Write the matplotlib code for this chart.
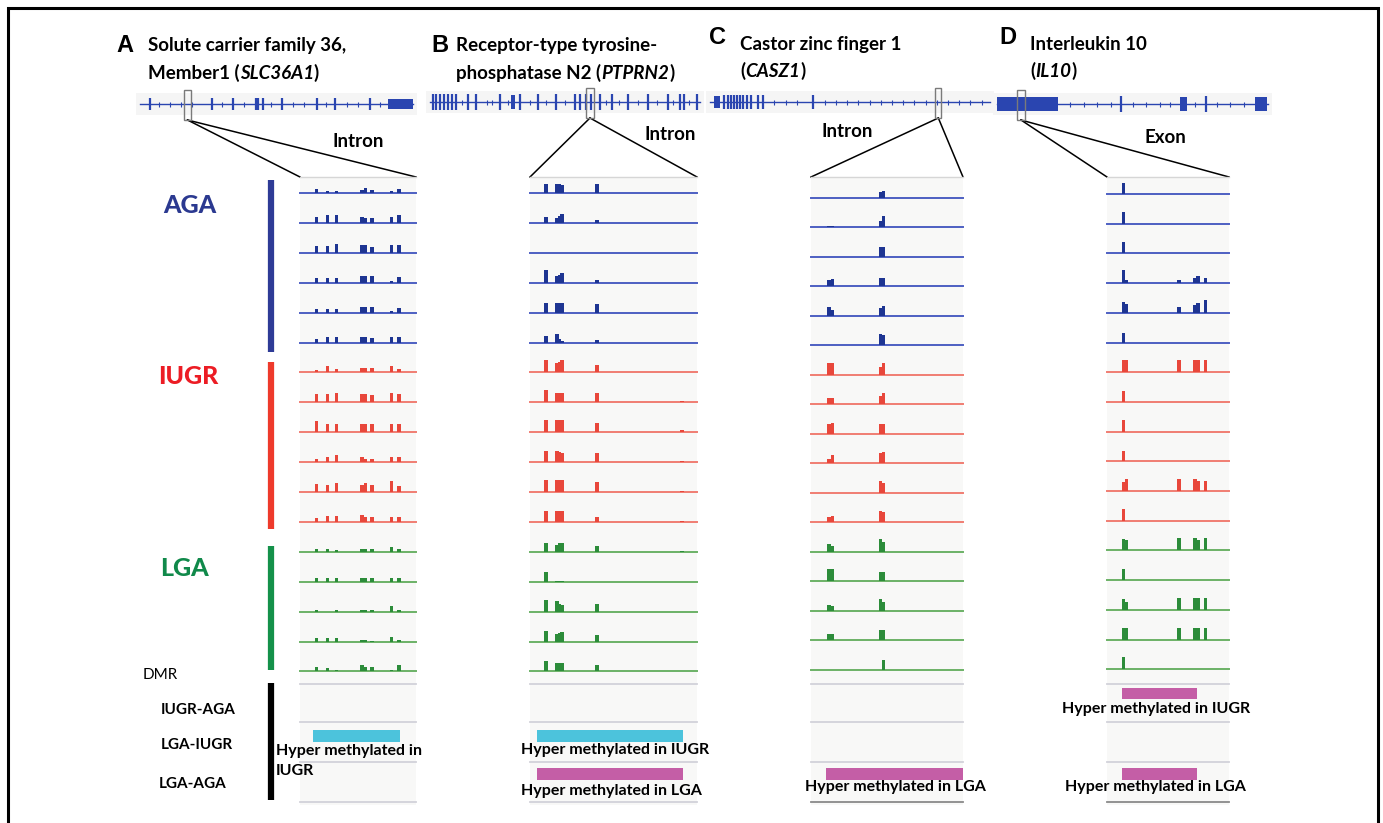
import numpy as np
import matplotlib
matplotlib.use("Agg")
import matplotlib.pyplot as plt
from matplotlib.patches import Rectangle

W, H = 1383, 823
TITLE_FONT = "Lato"

# ---------------- data ----------------
groups = ["AGA", "IUGR", "LGA"]
group_sizes = [6, 6, 5]
dmr_rows = ["IUGR-AGA", "LGA-IUGR", "LGA-AGA"]

panel_letters = ["A", "B", "C", "D"]
panel_titles = [
    ["Solute carrier family 36,", [("Member1 (", "normal"), ("SLC36A1", "italic"), (")", "normal")]],
    ["Receptor-type tyrosine-", [("phosphatase N2 (", "normal"), ("PTPRN2", "italic"), (")", "normal")]],
    ["Castor zinc finger 1", [("(", "normal"), ("CASZ1", "italic"), (")", "normal")]],
    ["Interleukin 10", [("(", "normal"), ("IL10", "italic"), (")", "normal")]],
]
region_labels = ["Intron", "Intron", "Intron", "Exon"]

# gene models: exon tick positions (fraction of gene span), thick UTR blocks (start, end)
gene_A_exons = [0.035, 0.264, 0.341, 0.425, 0.432, 0.451, 0.52, 0.648, 0.714, 0.842]
gene_A_blocks = [(0.908, 1.0)]
gene_A_marks = [0.07, 0.11, 0.15, 0.19, 0.30, 0.38, 0.48, 0.56, 0.60, 0.68, 0.76, 0.80, 0.88]
gene_B_exons = [0.011, 0.022, 0.037, 0.052, 0.067, 0.081, 0.096, 0.141, 0.17, 0.259, 0.333,
                0.4, 0.467, 0.537, 0.556, 0.578, 0.596, 0.63, 0.674, 0.733, 0.807, 0.881,
                0.926, 0.941, 0.989]
gene_B_blocks = [(0.30, 0.315), (0.575, 0.583)]
gene_B_marks = [0.12, 0.21, 0.23, 0.29, 0.37, 0.43, 0.5, 0.65, 0.7, 0.77, 0.84, 0.9, 0.96]
gene_C_exons = [0.05, 0.064, 0.074, 0.085, 0.096, 0.106, 0.117, 0.131, 0.145, 0.17, 0.191, 0.369]
gene_C_blocks = [(0.014, 0.035)]
gene_C_marks = [0.23, 0.27, 0.31, 0.41, 0.45, 0.49, 0.53, 0.57, 0.61, 0.65, 0.69, 0.73,
                0.77, 0.81, 0.85, 0.89, 0.93, 0.97]
gene_D_exons = [0.458, 0.771]
gene_D_blocks = [(0.0, 0.225), (0.675, 0.701), (0.952, 0.996)]
gene_D_marks = [0.27, 0.32, 0.37, 0.42, 0.5, 0.55, 0.6, 0.64, 0.73, 0.81, 0.86, 0.91]
gene_exons = [gene_A_exons, gene_B_exons, gene_C_exons, gene_D_exons]
gene_blocks = [gene_A_blocks, gene_B_blocks, gene_C_blocks, gene_D_blocks]
gene_marks = [gene_A_marks, gene_B_marks, gene_C_marks, gene_D_marks]
zoom_window = [(0.161, 0.187), (0.578, 0.607), (0.805, 0.826), (0.074, 0.103)]

# methylation tracks: CpG positions (fraction of zoomed region) and levels per sample
pos_A = [0.14, 0.235, 0.315, 0.535, 0.565, 0.62, 0.79, 0.855]
lev_A = [
    [4, 2.3, 1.7, 3.3, 5, 2.7, 1.7, 4],
    [6, 8, 8, 6, 5, 5, 6, 8],
    [7, 7, 8.5, 8, 8, 6, 8, 8],
    [4.7, 4.7, 4.7, 7, 7, 7, 1.7, 6],
    [3.3, 3.3, 3.3, 5.3, 5.3, 5.3, 1.7, 4.7],
    [3.3, 6, 5.3, 6, 6, 4.7, 6, 6],
    [2, 6, 3.3, 4.7, 4.7, 4.7, 6, 3.3],
    [8, 8, 9.3, 8.3, 8.3, 7.3, 9.3, 8],
    [11, 8, 8, 8, 8, 8, 8, 8],
    [3.3, 4.7, 6.7, 5.3, 3.3, 3.3, 4.7, 5.3],
    [8, 7.3, 9.3, 7.3, 9.3, 6.7, 10.7, 6],
    [4, 6, 6, 6.7, 4.7, 4.7, 4.7, 4.7],
    [3.3, 3.3, 2, 3.3, 3.3, 3.3, 4.7, 3.3],
    [3.3, 3.3, 3.3, 3.3, 3.3, 3.3, 3.3, 3.3],
    [2, 0, 2, 2, 2, 2, 6, 2],
    [3.3, 3.3, 3.3, 1.7, 1.7, 1, 4.7, 2],
    [4.7, 3.3, 1, 6, 4.7, 4.7, 1, 6],
]
pos_B = [0.094, 0.16, 0.176, 0.192, 0.403, 0.912]
lev_B = [
    [8.7, 9.3, 8.7, 8, 8.7, 0],
    [6, 5.3, 7.3, 8.7, 2.7, 0],
    [0, 0, 0, 0, 0, 0],
    [12.7, 6.7, 8, 9.3, 2.7, 0],
    [10, 10, 10, 10, 8.7, 0],
    [6.7, 8.7, 3.3, 2, 2.7, 0],
    [12, 9.3, 10.7, 12, 7.3, 0],
    [12, 9.3, 9.3, 9.3, 9.3, 1.3],
    [12, 12, 12, 12, 9.3, 2],
    [10.7, 11.3, 10, 9.3, 8.7, 1],
    [12, 12, 12, 12, 10, 1],
    [10.7, 10.7, 10.7, 10.7, 5.3, 1.3],
    [8.7, 7.3, 8.7, 9.3, 6, 1.3],
    [10, 1, 1, 1, 0, 0],
    [11.3, 10.7, 8, 6.7, 8, 0],
    [10.7, 7.3, 8.7, 9.3, 6.7, 0],
    [10, 8.7, 8, 8, 6.7, 0],
]
pos_C = [0.12, 0.142, 0.458, 0.478]
lev_C = [
    [0, 0, 6, 7],
    [1, 1, 6.7, 11.3],
    [0, 0, 9.3, 9.3],
    [6.7, 7.3, 8.7, 8],
    [8.7, 5.3, 8, 9.3],
    [0, 0, 11.3, 10],
    [11.3, 11.3, 8, 11.3],
    [6, 6, 8.7, 11.3],
    [9.3, 10.7, 10, 10],
    [4.7, 8, 10, 11.3],
    [0, 0, 11.3, 10],
    [5.3, 6.7, 11.3, 10],
    [7.3, 6, 12.7, 9.3],
    [12.7, 12.7, 9.3, 9.3],
    [6, 4.7, 11.3, 8.7],
    [6, 6, 10.7, 10.7],
    [0, 0, 0, 9.3],
]
pos_D = [0.134, 0.161, 0.59, 0.72, 0.748, 0.806]
lev_D = [
    [10.7, 0, 0, 0, 0, 0],
    [12, 0, 0, 0, 0, 0],
    [11.3, 0, 0, 0, 0, 0],
    [12.7, 2.7, 2.7, 5.3, 7.3, 4.7],
    [11.3, 9.3, 6, 8, 10, 12.7],
    [9.3, 0, 0, 0, 0, 0],
    [12, 12, 12, 12, 12, 12],
    [10.7, 0, 0, 0, 0, 0],
    [12, 0, 0, 0, 0, 0],
    [10, 0, 0, 0, 0, 0],
    [9.3, 12, 12, 12, 10, 10],
    [11.3, 0, 0, 0, 0, 0],
    [11.3, 10, 12, 12, 10, 12],
    [11.3, 0, 0, 0, 0, 0],
    [11.3, 8, 12, 12, 12, 12],
    [11.3, 12, 12, 12, 12, 12],
    [12, 0, 0, 0, 0, 0],
]
cpg_pos = [pos_A, pos_B, pos_C, pos_D]
cpg_lev = [lev_A, lev_B, lev_C, lev_D]
bar_w = [0.03, 0.022, 0.024, 0.03]

# DMRs: (row, start, end, colour key)
dmr_A = [(1, 0.11, 0.86, "cyan")]
dmr_B = [(1, 0.042, 0.916, "cyan"), (2, 0.042, 0.916, "magenta")]
dmr_C = [(2, 0.099, 1.0, "magenta")]
dmr_D = [(0, 0.123, 0.738, "magenta"), (2, 0.123, 0.738, "magenta")]
dmrs = [dmr_A, dmr_B, dmr_C, dmr_D]

# ---------------- layout / style ----------------
bar_col = {"AGA": "#1e3592", "IUGR": "#e8473b", "LGA": "#2c8c3a"}
line_col = {"AGA": "#4d5fc2", "IUGR": "#f07d72", "LGA": "#6cb267"}
label_col = {"AGA": "#2b3990", "IUGR": "#ec1c24", "LGA": "#10894a"}
side_col = {"AGA": "#2e3b96", "IUGR": "#ee3a2b", "LGA": "#14914a"}
dmr_col = {"cyan": "#4cc3dc", "magenta": "#c45ea6"}
gene_col = "#2a45b0"

col_x = [(300, 416), (530, 697), (811, 963), (1107, 1229)]
base0 = [193, 193, 197.7, 194]
step = [29.9, 29.9, 29.5, 29.7]
gene_x = [(140, 413), (430, 700), (710, 990), (997, 1268)]
gene_y = [104, 102, 102, 104]
exon_h = [12, 16, 14, 16]
dmr_y = [(688, 699), (730, 742), (768, 780)]
sep_y = [684, 722, 762, 802]

fig = plt.figure(figsize=(W / 100, H / 100), dpi=100)
ax = fig.add_axes([0, 0, 1, 1])
ax.set_xlim(0, W)
ax.set_ylim(H, 0)
ax.axis("off")
renderer = fig.canvas.get_renderer()

# outer frame
ax.plot([8, 8, 1378, 1378], [H, 8, 8, H], color="black", lw=2.2, solid_joinstyle="miter")


def rich_text(x, y, parts, **kw):
    for s, style in parts:
        t = ax.text(x, y, s, fontstyle=style, **kw)
        x += t.get_window_extent(renderer=renderer).width


title_kw = dict(fontsize=13.5, fontweight="bold", family=TITLE_FONT, va="center", ha="left")
letter_xy = [(116, 45), (431, 45), (709, 37), (999, 37)]
title_x = [148, 456, 740, 1030]
title_y = [(45, 73), (45, 73), (44, 71), (44, 71)]
region_xy = [(358, 141), (670, 134), (847, 131), (1165, 137)]

for p in range(4):
    lx, ly = letter_xy[p]
    ax.text(lx, ly, panel_letters[p], fontsize=17, fontweight="bold", family="Liberation Sans",
            va="center", ha="left")
    ax.text(title_x[p], title_y[p][0], panel_titles[p][0], **title_kw)
    rich_text(title_x[p], title_y[p][1], panel_titles[p][1], **title_kw)
    rx, ry = region_xy[p]
    ax.text(rx, ry, region_labels[p], fontsize=13.5, fontweight="bold", family=TITLE_FONT,
            ha="center", va="center")

    # gene model
    g0, g1 = gene_x[p]
    gy = gene_y[p]
    span = g1 - g0
    ax.add_patch(Rectangle((g0 - 4, gy - 11), span + 8, 22, color="#f5f5f5", lw=0, zorder=0))
    ax.plot([g0, g1], [gy, gy], color=gene_col, lw=1.0, zorder=2)
    gx = [g0 + f * span for f in gene_marks[p]]
    ax.vlines(gx, gy - 2.5, gy + 2.5, color=gene_col, lw=0.8, zorder=2)
    ex = [g0 + f * span for f in gene_exons[p]]
    eh = exon_h[p]
    ax.vlines(ex, gy - eh / 2, gy + eh / 2, color=gene_col, lw=1.6, zorder=2)
    for b0, b1 in gene_blocks[p]:
        ax.add_patch(Rectangle((g0 + b0 * span, gy - eh / 2 + 1), (b1 - b0) * span, eh - 2,
                               color=gene_col, lw=0, zorder=2))

    # zoom window and connector lines
    z0, z1 = zoom_window[p]
    zx0, zx1 = g0 + z0 * span, g0 + z1 * span
    ax.add_patch(Rectangle((zx0, gy - 14), zx1 - zx0, 30, fill=False, ec="#7a7a7a", lw=1.0, zorder=3))
    cx0, cx1 = col_x[p]
    zc = (zx0 + zx1) / 2
    ax.plot([zc, cx0], [gy + 16, 177], color="black", lw=1.1)
    ax.plot([zc, cx1], [gy + 16, 177], color="black", lw=1.1)

    # track column
    cw = cx1 - cx0
    ax.add_patch(Rectangle((cx0, 177), cw, 628, color="#f8f8f7", lw=0, zorder=0))
    ax.plot([cx0, cx1], [177, 177], color="#d6d6d6", lw=1.0)
    i = 0
    for g, n in zip(groups, group_sizes):
        for k in range(n):
            yb = base0[p] + i * step[p]
            ax.plot([cx0, cx1], [yb, yb], color=line_col[g], lw=1.4, zorder=2)
            xs = [cx0 + f * cw for f in cpg_pos[p]]
            hs = [-v for v in cpg_lev[p][i]]
            ax.bar(xs, hs, width=bar_w[p] * cw, bottom=yb, color=bar_col[g], lw=0, zorder=3)
            i += 1

    # DMR rows
    for j, sy in enumerate(sep_y):
        c = "#d2d2da"
        if j == 3 and p >= 2:
            c = "#8a8a8a"
        ax.plot([cx0, cx1], [sy, sy], color=c, lw=1.3)
    for row, d0, d1, kind in dmrs[p]:
        y0, y1 = dmr_y[row]
        ax.add_patch(Rectangle((cx0 + d0 * cw, y0), (d1 - d0) * cw, y1 - y0,
                               color=dmr_col[kind], lw=0, zorder=3))

# DMR annotations
ann_kw = dict(fontsize=11.5, fontweight="bold", family=TITLE_FONT, va="center")
ax.text(276, 751, "Hyper methylated in", ha="left", **ann_kw)
ax.text(276, 771, "IUGR", ha="left", **ann_kw)
ax.text(615, 750, "Hyper methylated in IUGR", ha="center", **ann_kw)
ax.text(611, 791, "Hyper methylated in LGA", ha="center", **ann_kw)
ax.text(895, 787, "Hyper methylated in LGA", ha="center", **ann_kw)
ax.text(1156, 709, "Hyper methylated in IUGR", ha="center", **ann_kw)
ax.text(1155, 787, "Hyper methylated in LGA", ha="center", **ann_kw)

# left group labels and side bars
label_xy = {"AGA": (190, 205), "IUGR": (188, 376), "LGA": (184, 568)}
side_span = {"AGA": (180, 352), "IUGR": (362, 529), "LGA": (546, 670)}
for g in groups:
    ax.text(*label_xy[g], g, color=label_col[g], fontsize=18, fontweight="black",
            family=TITLE_FONT, ha="center", va="center")
    s0, s1 = side_span[g]
    ax.plot([271, 271], [s0, s1], color=side_col[g], lw=4.5, solid_capstyle="butt")
ax.plot([271, 271], [683, 800], color="black", lw=4.5, solid_capstyle="butt")
ax.text(160, 675, "DMR", fontsize=11, family=TITLE_FONT, ha="center", va="center")
dmr_label_xy = [(198, 710), (197, 745), (193, 784)]
for name, (x, y) in zip(dmr_rows, dmr_label_xy):
    ax.text(x, y, name, fontsize=11, fontweight="bold", family=TITLE_FONT, ha="center", va="center")

fig.savefig("out.png", dpi=100)
